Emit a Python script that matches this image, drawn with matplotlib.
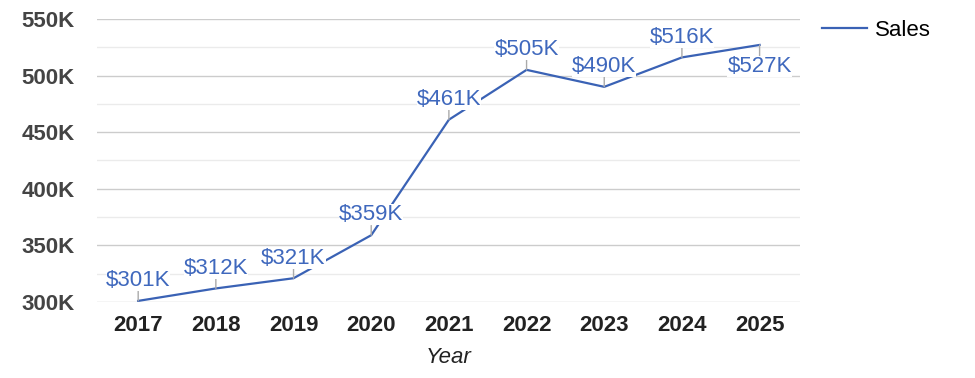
import matplotlib.pyplot as plt
from matplotlib.ticker import FuncFormatter, MultipleLocator

years = ['2017', '2018', '2019', '2020', '2021', '2022', '2023', '2024', '2025']
sales = [301000, 312000, 321000, 359000, 461000, 505000, 490000, 516000, 527000]
labels = ['$301K', '$312K', '$321K', '$359K', '$461K', '$505K', '$490K', '$516K', '$527K']
below = [False, False, False, False, False, False, False, False, True]

plt.rcParams['font.family'] = ['Liberation Sans', 'DejaVu Sans']

fig = plt.figure(figsize=(9.75, 3.78), dpi=100)
ax = fig.add_axes([0.0995, 0.201, 0.721, 0.749])

x = list(range(len(years)))
line, = ax.plot(x, sales, color='#3a62b5', lw=1.6, label='Sales', zorder=2)

for xi, yi, lab, b in zip(x, sales, labels, below):
    off = -8 if b else 7
    ax.annotate(lab, (xi, yi), xytext=(0, off), textcoords='offset points',
                ha='center', va='top' if b else 'bottom', fontsize=16,
                color='#3f68bd', zorder=3,
                bbox=dict(boxstyle='square,pad=0.0', fc='white', ec='none'),
                arrowprops=dict(arrowstyle='-', color='#aaaaaa', lw=1,
                                shrinkA=0, shrinkB=0))

ax.set_xlim(-0.53, 8.52)
ax.set_ylim(300000, 550000)
ax.yaxis.set_major_locator(MultipleLocator(50000))
ax.yaxis.set_minor_locator(MultipleLocator(25000))
ax.yaxis.set_major_formatter(FuncFormatter(lambda v, p: f'{v / 1000:.0f}K'))
ax.grid(axis='y', which='major', color='#cccccc', lw=1)
ax.grid(axis='y', which='minor', color='#ebebeb', lw=1)
ax.set_axisbelow(True)
for s in ax.spines.values():
    s.set_visible(False)
ax.tick_params(axis='both', which='both', length=0)
ax.tick_params(axis='y', pad=16, labelsize=16, labelcolor='#444444')
ax.tick_params(axis='x', pad=9, labelsize=16, labelcolor='#222222')
ax.set_xticks(x)
ax.set_xticklabels(years)
for t in ax.get_xticklabels() + ax.get_yticklabels():
    t.set_fontweight('bold')
ax.set_xlabel('Year', fontsize=16, style='italic', color='#222222', labelpad=8)

fig.legend(handles=[line], loc='upper left', bbox_to_anchor=(0.823, 1.0),
           frameon=False, fontsize=16, handlelength=2.0, handletextpad=0.35)

fig.savefig('out.png', dpi=100)
